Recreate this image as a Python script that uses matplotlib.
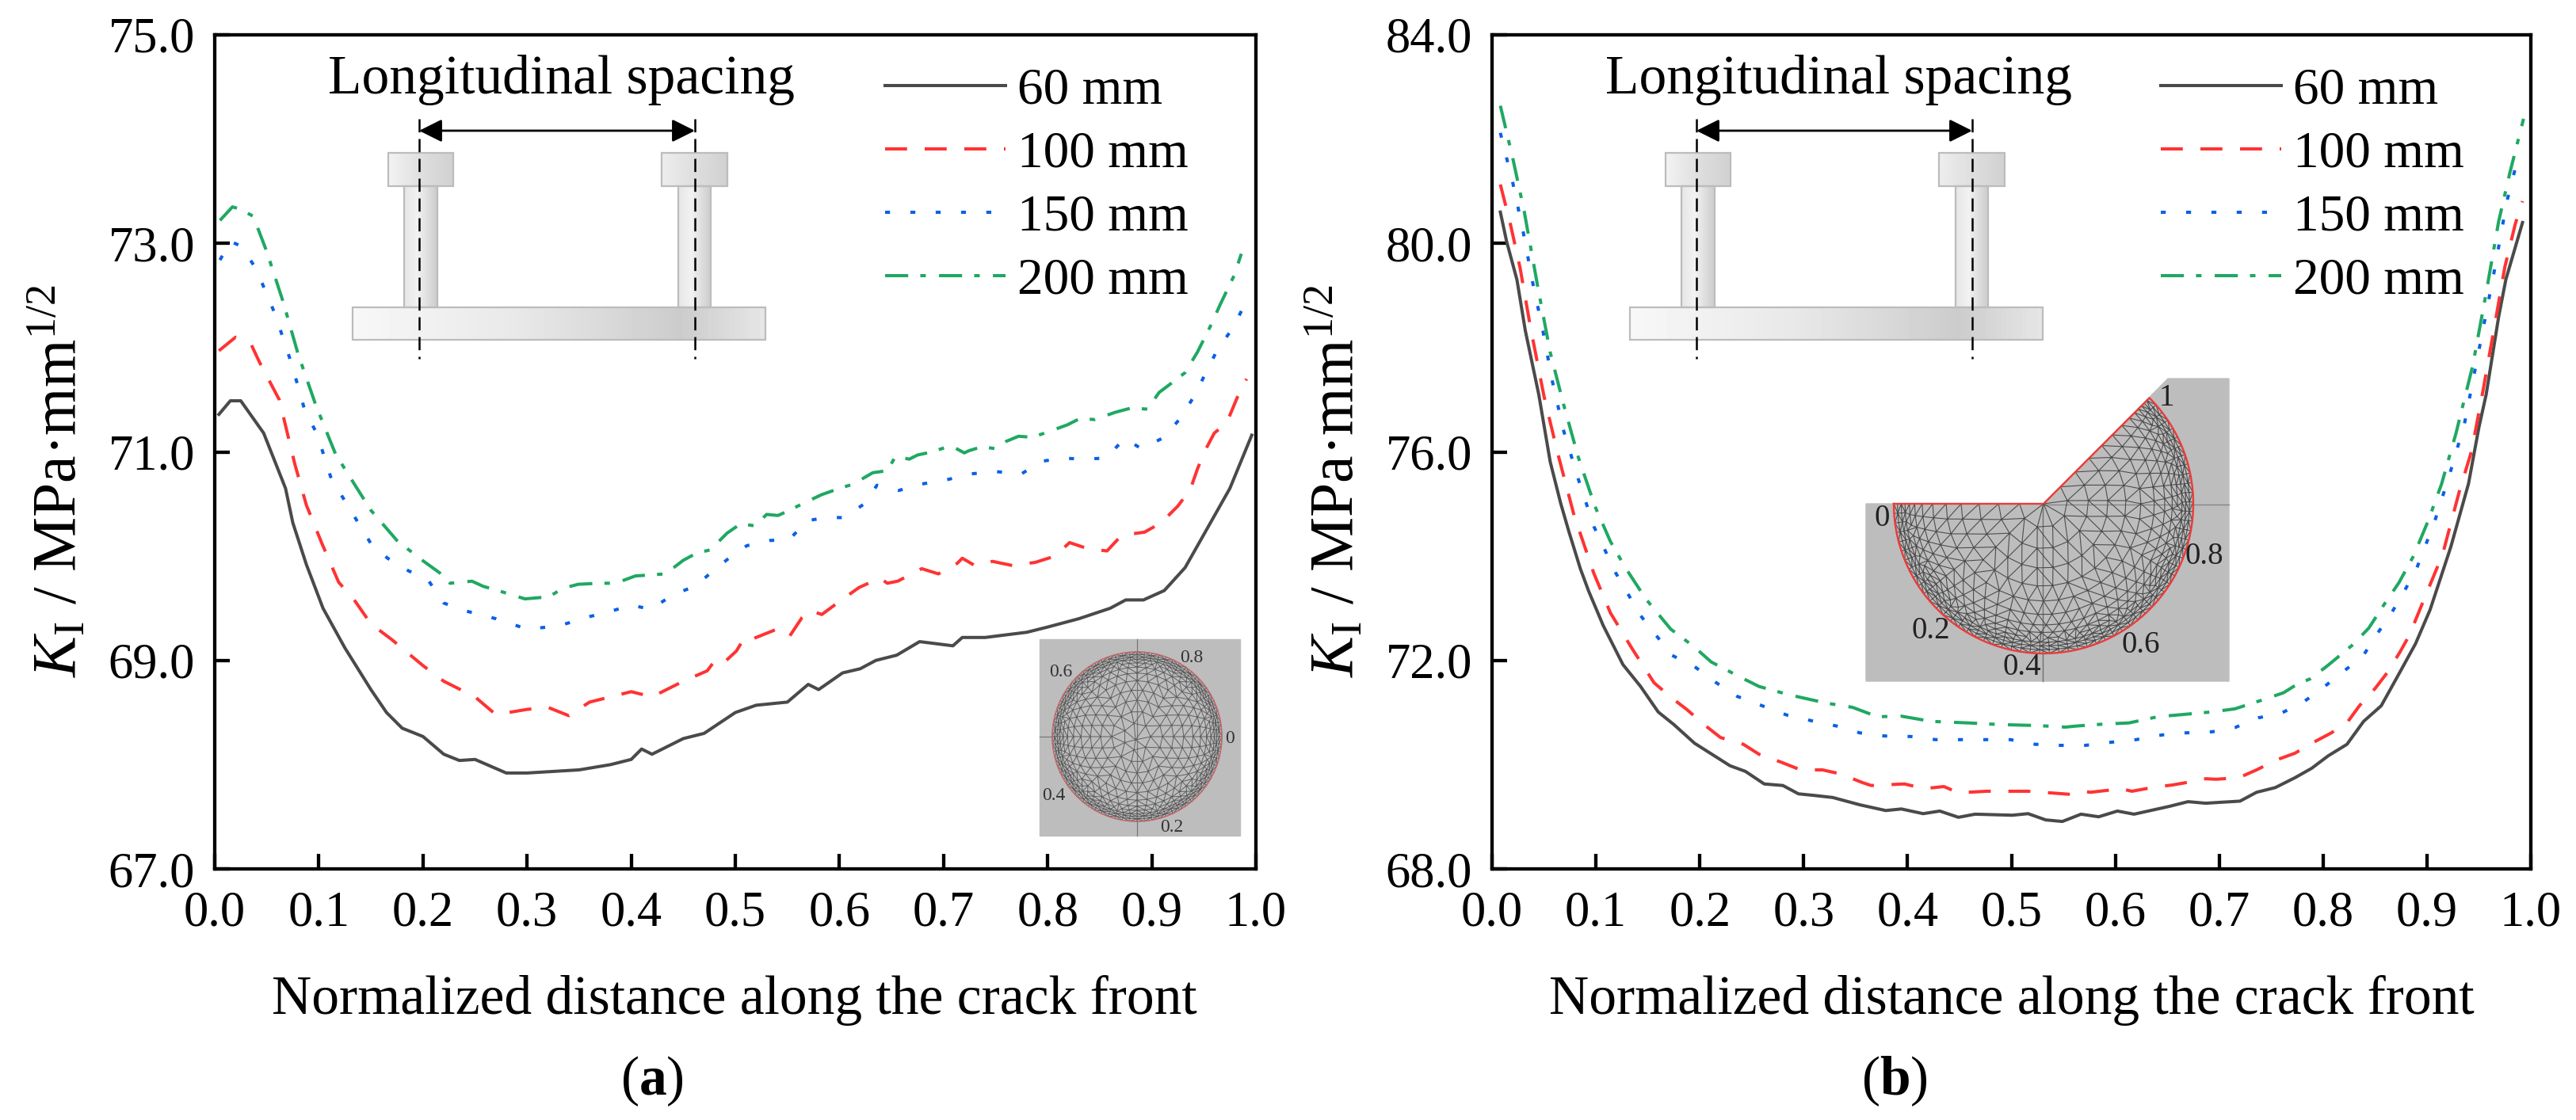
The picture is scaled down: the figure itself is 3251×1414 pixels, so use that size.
import numpy as np
import matplotlib
matplotlib.use("Agg")
from matplotlib import pyplot as plt
from matplotlib.patches import Polygon, Rectangle
from matplotlib.tri import Triangulation

W, H = 3251, 1414

plt.rcParams["font.family"] = ["Liberation Serif", "DejaVu Serif"]
plt.rcParams["mathtext.fontset"] = "custom"
plt.rcParams["mathtext.rm"] = "Liberation Serif"
plt.rcParams["mathtext.it"] = "Liberation Serif:italic"
plt.rcParams["mathtext.bf"] = "Liberation Serif:bold"
plt.rcParams["lines.scale_dashes"] = False

labels = ["60 mm", "100 mm", "150 mm", "200 mm"]
colors = ["#4a4a4a", "#ff3333", "#0a60e6", "#1fa862"]
styles = ["-", (0, (20, 16)), (0, (4.5, 18.5)), (0, (21, 11, 5, 12))]

# panel (a), values
a_60_x = [.004, .015, .025, .047, .068, .075, .088, .104, .125, .15, .165, .18, .2, .22, .235, .25, .28, .3, .35, .38, .4, .41, .42, .45, .47, .5, .52, .55, .57, .58, .603, .62, .635, .655, .677, .709, .718, .74, .78, .8, .83, .86, .875, .892, .912, .932, .949, .975, .996]
a_60_y = [71.36, 71.49, 71.49, 71.18, 70.65, 70.32, 69.92, 69.5, 69.12, 68.72, 68.5, 68.35, 68.27, 68.1, 68.04, 68.05, 67.92, 67.92, 67.95, 68.0, 68.05, 68.15, 68.1, 68.25, 68.3, 68.5, 68.57, 68.6, 68.77, 68.72, 68.88, 68.92, 69.0, 69.05, 69.18, 69.14, 69.22, 69.22, 69.27, 69.32, 69.4, 69.5, 69.58, 69.58, 69.67, 69.89, 70.19, 70.65, 71.16]
a_100_x = [.004, .02, .035, .043, .062, .077, .088, .103, .119, .134, .15, .17, .2, .22, .25, .27, .3, .32, .34, .36, .4, .42, .45, .473, .479, .486, .501, .509, .515, .54, .552, .564, .572, .583, .602, .619, .639, .646, .656, .679, .695, .713, .718, .73, .747, .766, .788, .807, .821, .839, .857, .871, .893, .909, .925, .937, .944, .951, .96, .972, .982, .991]
a_100_y = [71.97, 72.1, 72.03, 71.86, 71.5, 70.88, 70.49, 70.12, 69.75, 69.58, 69.35, 69.2, 68.95, 68.8, 68.65, 68.48, 68.53, 68.55, 68.47, 68.6, 68.7, 68.65, 68.8, 68.9, 68.98, 68.95, 69.09, 69.22, 69.2, 69.3, 69.23, 69.41, 69.48, 69.44, 69.58, 69.7, 69.79, 69.74, 69.76, 69.88, 69.83, 69.93, 69.98, 69.91, 69.95, 69.91, 69.94, 70.0, 70.13, 70.07, 70.05, 70.2, 70.23, 70.32, 70.48, 70.64, 70.84, 71.01, 71.18, 71.28, 71.52, 71.7]
a_150_x = [.005, .015, .026, .04, .058, .074, .087, .098, .112, .125, .15, .166, .186, .205, .22, .239, .27, .3, .33, .36, .38, .4, .419, .44, .461, .479, .495, .511, .533, .552, .569, .587, .605, .625, .636, .657, .678, .702, .727, .751, .775, .794, .816, .833, .856, .874, .89, .912, .928, .941, .952, .963, .978, .989]
a_150_y = [72.84, 73.02, 72.97, 72.75, 72.32, 71.84, 71.38, 71.18, 70.74, 70.53, 70.12, 69.98, 69.86, 69.77, 69.55, 69.48, 69.4, 69.3, 69.33, 69.42, 69.47, 69.53, 69.49, 69.63, 69.71, 69.86, 69.99, 70.1, 70.15, 70.16, 70.34, 70.37, 70.37, 70.51, 70.68, 70.63, 70.69, 70.73, 70.79, 70.81, 70.79, 70.91, 70.94, 70.93, 70.94, 71.13, 71.03, 71.14, 71.33, 71.54, 71.76, 71.98, 72.19, 72.41]
a_200_x = [.005, .017, .024, .037, .05, .066, .08, .097, .116, .131, .15, .175, .198, .216, .226, .247, .258, .272, .298, .321, .334, .349, .369, .385, .404, .433, .45, .463, .476, .492, .505, .519, .53, .541, .552, .566, .583, .6, .613, .632, .646, .654, .667, .675, .689, .707, .72, .724, .737, .75, .76, .772, .785, .8, .819, .831, .845, .865, .88, .896, .907, .919, .932, .944, .957, .966, .979, .986]
a_200_y = [73.22, 73.35, 73.33, 73.26, 72.92, 72.43, 71.94, 71.45, 70.98, 70.74, 70.44, 70.15, 69.97, 69.84, 69.74, 69.76, 69.71, 69.67, 69.59, 69.61, 69.69, 69.73, 69.74, 69.74, 69.81, 69.83, 69.96, 70.03, 70.06, 70.22, 70.31, 70.29, 70.4, 70.39, 70.44, 70.51, 70.59, 70.65, 70.69, 70.8, 70.82, 70.96, 70.93, 70.97, 71.0, 71.06, 70.99, 71.01, 71.05, 71.03, 71.1, 71.15, 71.14, 71.19, 71.26, 71.32, 71.31, 71.38, 71.42, 71.41, 71.57, 71.66, 71.76, 71.96, 72.22, 72.42, 72.69, 72.9]

# panel (b)
b_60_x = [.008, .014, .024, .032, .045, .056, .066, .074, .085, .093, .107, .126, .143, .16, .175, .195, .214, .229, .244, .262, .28, .295, .31, .328, .354, .379, .394, .415, .431, .449, .465, .501, .516, .533, .549, .567, .584, .602, .618, .652, .67, .687, .703, .72, .736, .754, .773, .789, .805, .823, .839, .856, .873, .889, .903, .923, .94, .95, .957, .969, .976, .992]
b_60_y = [80.6, 80.04, 79.3, 78.33, 77.1, 75.81, 75.02, 74.47, 73.76, 73.33, 72.67, 71.92, 71.5, 71.01, 70.77, 70.41, 70.17, 69.98, 69.87, 69.63, 69.6, 69.44, 69.41, 69.37, 69.23, 69.12, 69.15, 69.06, 69.11, 68.99, 69.05, 69.03, 69.06, 68.94, 68.91, 69.05, 69.0, 69.11, 69.05, 69.2, 69.29, 69.26, 69.28, 69.3, 69.47, 69.56, 69.75, 69.93, 70.17, 70.39, 70.83, 71.13, 71.74, 72.32, 72.97, 74.18, 75.39, 76.47, 77.1, 78.59, 79.31, 80.4]
b_100_x = [.008, .018, .027, .037, .05, .063, .079, .098, .114, .135, .156, .173, .188, .204, .22, .242, .257, .278, .297, .318, .336, .356, .365, .375, .397, .416, .435, .449, .476, .516, .557, .568, .576, .598, .603, .616, .638, .655, .678, .687, .697, .719, .736, .755, .773, .79, .808, .824, .835, .85, .862, .874, .883, .899, .915, .931, .943, .954, .965, .975, .985, .992]
b_100_y = [81.13, 80.34, 79.53, 78.39, 77.07, 75.99, 74.78, 73.67, 72.91, 72.22, 71.57, 71.28, 71.05, 70.77, 70.52, 70.39, 70.2, 70.05, 69.9, 69.9, 69.82, 69.66, 69.6, 69.61, 69.63, 69.54, 69.58, 69.46, 69.49, 69.49, 69.43, 69.49, 69.47, 69.52, 69.55, 69.49, 69.57, 69.61, 69.69, 69.73, 69.72, 69.75, 69.9, 70.09, 70.22, 70.42, 70.61, 70.83, 71.13, 71.46, 71.77, 72.16, 72.48, 73.26, 74.03, 75.23, 76.02, 77.18, 78.41, 79.55, 80.37, 80.81]
b_150_x = [.008, .02, .03, .039, .049, .058, .069, .083, .098, .119, .143, .173, .195, .216, .236, .26, .284, .308, .332, .354, .378, .403, .427, .451, .499, .523, .547, .571, .596, .62, .645, .668, .693, .715, .738, .759, .781, .799, .819, .838, .851, .865, .878, .89, .907, .922, .936, .95, .964, .977, .989]
b_150_y = [82.12, 81.16, 80.22, 79.26, 78.32, 77.36, 76.4, 75.48, 74.57, 73.68, 72.86, 72.1, 71.88, 71.57, 71.31, 71.13, 70.95, 70.84, 70.74, 70.61, 70.55, 70.54, 70.48, 70.48, 70.48, 70.39, 70.37, 70.37, 70.43, 70.48, 70.57, 70.61, 70.63, 70.71, 70.9, 70.98, 71.2, 71.46, 71.78, 72.07, 72.48, 72.88, 73.32, 73.76, 74.64, 75.58, 76.53, 77.95, 79.38, 80.81, 81.75]
b_200_x = [.008, .02, .031, .044, .056, .069, .083, .099, .114, .128, .148, .172, .194, .211, .236, .257, .286, .322, .347, .371, .394, .423, .459, .488, .525, .552, .562, .59, .613, .641, .664, .692, .715, .743, .762, .774, .788, .805, .828, .844, .86, .873, .887, .901, .914, .928, .944, .956, .969, .98, .993]
b_200_y = [82.64, 81.63, 80.61, 79.17, 77.91, 76.9, 75.9, 74.96, 74.28, 73.79, 73.18, 72.6, 72.27, 71.97, 71.71, 71.5, 71.34, 71.18, 71.1, 70.92, 70.93, 70.83, 70.8, 70.77, 70.75, 70.72, 70.74, 70.78, 70.8, 70.92, 70.96, 71.01, 71.07, 71.25, 71.38, 71.53, 71.65, 71.91, 72.29, 72.62, 73.11, 73.49, 74.0, 74.67, 75.38, 76.36, 77.65, 78.94, 80.42, 81.37, 82.39]

a_series = [(a_60_x, a_60_y), (a_100_x, a_100_y), (a_150_x, a_150_y), (a_200_x, a_200_y)]
b_series = [(b_60_x, b_60_y), (b_100_x, b_100_y), (b_150_x, b_150_y), (b_200_x, b_200_y)]

a_yticks = [67, 69, 71, 73, 75]
b_yticks = [68, 72, 76, 80, 84]
xticks = [i / 10 for i in range(11)]

sector_labels = [("0", 2375, 655), ("0.2", 2437, 797), ("0.4", 2552, 842), ("0.6", 2702, 815), ("0.8", 2782, 702), ("1", 2734, 503)]
circle_labels = [("0", 1552, 932), ("0.2", 1479, 1044), ("0.4", 1330, 1004), ("0.6", 1339, 849), ("0.8", 1504, 830)]


def make_axes(fig, left, right, top, bottom, series, yticks):
    ax = fig.add_axes([left / W, 1 - bottom / H, (right - left) / W, (bottom - top) / H])
    for (x, y), label, color, style in zip(series, labels, colors, styles):
        ax.plot(x, y, color=color, linestyle=style, linewidth=2.9, label=label, dash_capstyle="butt")
    ax.set_xlim(0, 1)
    ax.set_ylim(yticks[0], yticks[-1])
    ax.set_xticks(xticks, [f"{t:.1f}" for t in xticks])
    ax.set_yticks(yticks, [f"{t:.1f}" for t in yticks])
    ax.tick_params(axis="both", direction="in", length=14, width=3.1, labelsize=45)
    ax.tick_params(axis="x", pad=20)
    ax.tick_params(axis="y", pad=18)
    for spine in ax.spines.values():
        spine.set_linewidth(3.1)
    ax.legend(loc="upper left", bbox_to_anchor=(846 / 1314, 0.961),
              frameon=False, fontsize=47, handlelength=2.33, handletextpad=0.23, labelspacing=0.31,
              borderaxespad=0, borderpad=0)
    return ax


def gradient(over, x0, x1, y0, y1, stops):
    shades = np.interp(np.linspace(0, 1, 80), [s[0] for s in stops], [s[1] for s in stops])
    over.imshow(shades[np.newaxis, :], cmap="gray", vmin=0, vmax=1, aspect="auto",
                extent=(x0, x1, y1, y0), zorder=2)
    over.add_patch(Rectangle((x0, y0), x1 - x0, y1 - y0, fill=False, edgecolor="#bcbcbc", linewidth=1.6, zorder=3))


def schematic(over, dx):
    gradient(over, 510 + dx, 552 + dx, 235, 388, [(0, .90), (.4, .95), (1, .80)])
    gradient(over, 856 + dx, 897 + dx, 235, 388, [(0, .90), (.4, .95), (1, .80)])
    gradient(over, 490 + dx, 572 + dx, 193, 235, [(0, .95), (.6, .86), (1, .82)])
    gradient(over, 835 + dx, 918 + dx, 193, 235, [(0, .93), (.6, .86), (1, .82)])
    gradient(over, 445 + dx, 966 + dx, 388, 429, [(0, .97), (.4, .91), (.8, .80), (1, .90)])
    for x in (529 + dx, 877 + dx):
        over.plot([x, x], [150, 453], color="black", linewidth=1.8, zorder=4, linestyle=(0, (12, 6, 12, 6)))
    over.annotate("", xy=(529 + dx, 165), xytext=(877 + dx, 165), zorder=5,
                  arrowprops=dict(arrowstyle="<|-|>", color="black", linewidth=2, shrinkA=0, shrinkB=0, mutation_scale=44))
    over.text(708 + dx, 118, "Longitudinal spacing", fontsize=50, ha="center", va="baseline", zorder=5)


def ring_points(cx, cy, r, start, stop, fractions, counts):
    px, py = [], []
    for f, n in zip(fractions, counts):
        for t in np.linspace(start, stop, n):
            px.append(cx + f * r * np.cos(np.radians(t)))
            py.append(cy + f * r * np.sin(np.radians(t)))
    return np.array(px), np.array(py)


def circle_inset(over):
    over.add_patch(Rectangle((1312, 807), 253, 248, color="#bdbdbd", zorder=2))
    over.plot([1312, 1328], [930, 930], color="#777777", linewidth=0.9, zorder=3)
    over.plot([1435, 1435], [807, 1055], color="#777777", linewidth=0.9, zorder=3)
    fractions = [1, .97, .94, .91, .87, .82, .75, .66, .55, .43, .30, .16]
    counts = [73, 73, 73, 73, 61, 49, 41, 33, 27, 21, 15, 8]
    px, py = ring_points(1435, 930, 107, 0, 360, fractions, counts)
    px = np.append(px[:-1], 1433)
    py = np.append(py[:-1], 934)
    over.triplot(Triangulation(px, py), color="#5f5f5f", linewidth=0.7, zorder=3)
    t = np.linspace(0, 2 * np.pi, 200)
    over.plot(1435 + 107 * np.cos(t), 930 + 107 * np.sin(t), color="#c9676f", linewidth=1.1, zorder=4)
    for text, x, y in circle_labels:
        over.text(x, y, text, fontsize=17, color="#333333", ha="center", va="center", zorder=5)


def sector_inset(over):
    cx, cy, r = 2579, 636, 189
    outline = [(2355, 636), (2579, 636), (2736, 478), (2813, 478), (2813, 860), (2355, 860)]
    over.add_patch(Polygon(outline, closed=True, color="#bdbdbd", zorder=2))
    over.plot([cx, 2813], [637, 637], color="#858585", linewidth=1, zorder=3)
    over.plot([2578, 2578], [cy, 860], color="#707070", linewidth=1, zorder=3)
    fractions = [1, .975, .95, .925, .895, .86, .81, .74, .65, .55, .43, .30, .16]
    counts = [62, 62, 62, 62, 50, 44, 38, 32, 26, 22, 17, 12, 7]
    px, py = ring_points(cx, cy, r, 180, -45, fractions, counts)
    px = np.append(px, cx)
    py = np.append(py, cy)
    tri = Triangulation(px, py)
    mx = px[tri.triangles].mean(axis=1) - cx
    my = py[tri.triangles].mean(axis=1) - cy
    angle = np.degrees(np.arctan2(my, mx))
    tri.set_mask((angle < -45) & (angle > -180))
    over.triplot(tri, color="#4d4d4d", linewidth=0.8, zorder=3)
    t = np.radians(np.linspace(180, -45, 200))
    over.plot(np.r_[cx + r * np.cos(t), cx, cx - r], np.r_[cy + r * np.sin(t), cy, cy],
              color="#ee3a3a", linewidth=1.7, zorder=4)
    for text, x, y in sector_labels:
        over.text(x, y, text, fontsize=28, color="#222222", ha="center", va="center", zorder=5)


fig = plt.figure(figsize=(W / 100, H / 100), dpi=100)
ax_a = make_axes(fig, 271, 1585, 44, 1097, a_series, a_yticks)
ax_b = make_axes(fig, 1883, 3194, 44, 1097, b_series, b_yticks)

# overlay in pixel coordinates for the drawings and free text
over = fig.add_axes([0, 0, 1, 1], facecolor="none")
over.axis("off")
schematic(over, 0)
schematic(over, 1612)
circle_inset(over)
sector_inset(over)
over.set_xlim(0, W)
over.set_ylim(H, 0)

ylabel = r"$\mathit{K}_{\mathrm{I}}$ / MPa·mm$^{1/2}$"
for dx, cap, cap_x in [(0, "a", 823), (1612, "b", 2391)]:
    over.text(927 + dx, 1280, "Normalized distance along the crack front", fontsize=50, ha="center", va="baseline")
    over.text(95 + dx, 607, ylabel, fontsize=56, rotation=90, ha="center", va="baseline", rotation_mode="anchor")
    over.text(cap_x, 1382, "($\\mathbf{" + cap + "}$)", fontsize=50, ha="center", va="baseline")

fig.savefig("out.png", dpi=100)
